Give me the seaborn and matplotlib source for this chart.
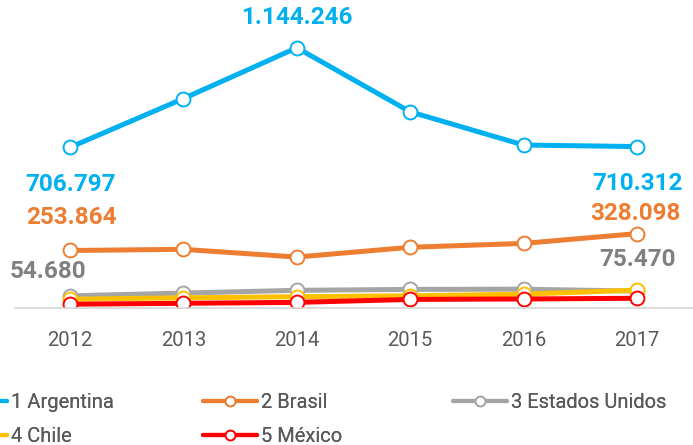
import matplotlib
matplotlib.use("Agg")
import matplotlib.pyplot as plt
import seaborn as sns
import pandas as pd
from matplotlib.lines import Line2D

# datos
anios = [2012, 2013, 2014, 2015, 2016, 2017]
paises = ["1 Argentina", "2 Brasil", "3 Estados Unidos", "4 Chile", "5 México"]
argentina = [706797, 921000, 1144246, 863000, 717000, 710312]
brasil = [253864, 259000, 225000, 268000, 285000, 328098]
estados_unidos = [54680, 67000, 79000, 83000, 84000, 75470]
chile = [40000, 46000, 51000, 55000, 62000, 80000]
mexico = [18000, 22000, 26000, 39000, 41000, 44000]
colores = ["#00B0F0", "#ED7D31", "#A5A5A5", "#FFC000", "#FF0000"]

series = [argentina, brasil, estados_unidos, chile, mexico]

sns.set_theme(style="white")
plt.rcParams["font.family"] = ["Roboto", "DejaVu Sans"]

fig = plt.figure(figsize=(6.93, 4.45), dpi=100)
ax = fig.add_axes([15 / 693, (445 - 308.3) / 445, 678 / 693, 296 / 445])

for nombre, valores, color in zip(paises, series, colores):
    df = pd.DataFrame({"anio": anios, "valor": valores})
    sns.lineplot(data=df, x="anio", y="valor", ax=ax, color=color,
                 linewidth=3.6, marker="o", markersize=10,
                 markerfacecolor="white", markeredgecolor=color,
                 markeredgewidth=1.4, label=nombre, legend=False)

ax.set_xlim(2012 - 55 / 113.4, 2017 + 56 / 113.4)
ax.set_ylim(0, 1300000)
ax.set_xticks(anios)
ax.set_xticklabels([str(a) for a in anios], fontsize=14.5, color="#595959")
ax.set_yticks([])
ax.set_xlabel("")
ax.set_ylabel("")
ax.tick_params(axis="x", length=0, pad=16)
for lado in ["top", "right", "left"]:
    ax.spines[lado].set_visible(False)
ax.spines["bottom"].set_color("#D9D9D9")
ax.spines["bottom"].set_linewidth(1.3)

# etiquetas de datos
def etiqueta(i, valores, color, dx, dy):
    texto = f"{valores[i]:,}".replace(",", ".")
    ax.annotate(texto, xy=(anios[i], valores[i]), xytext=(dx, dy),
                textcoords="offset pixels", ha="center", va="center",
                fontsize=17.5, fontweight="bold", color=color)

etiqueta(0, argentina, colores[0], 1, -37)
etiqueta(2, argentina, colores[0], 0, 30)
etiqueta(5, argentina, colores[0], 0, -37)
etiqueta(0, brasil, colores[1], 1, 33)
etiqueta(5, brasil, colores[1], -2, 20)
etiqueta(0, estados_unidos, "#808080", -22, 24)
etiqueta(5, estados_unidos, "#808080", 0, 32)

# leyenda (recortada a la izquierda, como en el original)
def manija(color):
    return Line2D([0], [0], color=color, linewidth=3, marker="o", markersize=7,
                  markerfacecolor="white", markeredgecolor=color, markeredgewidth=1.3)

columnas = [([0, 3], -47 / 693), ([1, 4], 203 / 693), ([2], 453 / 693)]
for idx, x0 in columnas:
    leg = fig.legend([manija(colores[i]) for i in idx], [paises[i] for i in idx],
                     loc="upper left", bbox_to_anchor=(x0, 0.117), frameon=False,
                     fontsize=14.5, handlelength=2.7, handletextpad=0.2,
                     labelspacing=0.75, borderpad=0, borderaxespad=0)
    for t in leg.get_texts():
        t.set_color("#595959")
    fig.add_artist(leg)

fig.savefig("out.png", dpi=100)
